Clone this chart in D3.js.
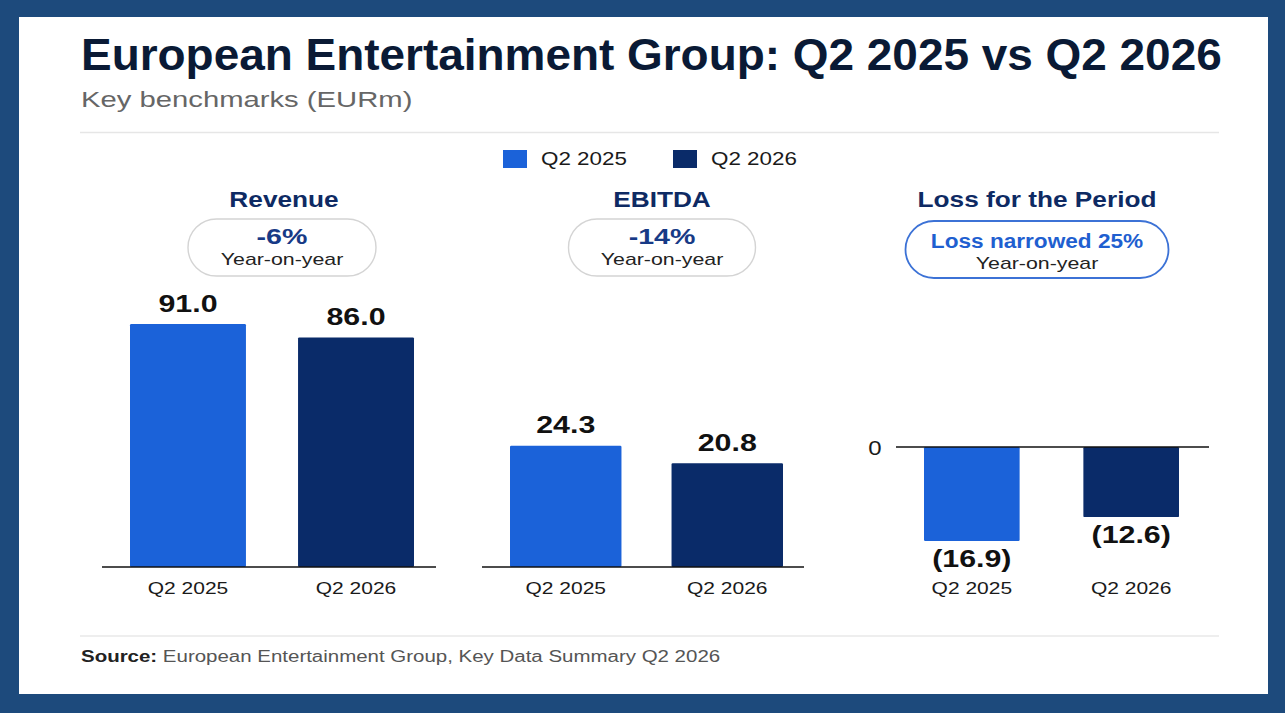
<!DOCTYPE html>
<html>
<head>
<meta charset="utf-8">
<script src="https://cdn.jsdelivr.net/npm/d3@7"></script>
<style>
  body { margin: 0; background: #1d4a7c; }
  svg { display: block; font-family: "Liberation Sans", Arial, Helvetica, sans-serif; }
</style>
</head>
<body>
<svg id="chart"></svg>
<script>
const width = 1285;
const height = 713;

// data
const categories = ['Q2 2025', 'Q2 2026'];
const metrics = ['Revenue', 'EBITDA', 'Loss for the Period'];
const revenue = [91.0, 86.0];
const ebitda = [24.3, 20.8];
const lossForPeriod = [-16.9, -12.6];
const yoyChange = ['-6%', '-14%', 'Loss narrowed 25%'];
const yoyNote = 'Year-on-year';
const axisMax = [100, 53.5, 48];
const zeroTicks = [null, null, 0];

const colors = ['#1b62d9', '#0a2b69'];
const series = [revenue, ebitda, lossForPeriod];

// layout of the three small panels
const panels = [
    { cx: 282, bars: [130, 414], axis: [102, 436], inner: 0.31, base: 567, pillW: 188, pillY: 219, highlight: false },
    { cx: 662, bars: [510, 783], axis: [482, 804], inner: 0.31, base: 567, pillW: 187, pillY: 219, highlight: false },
    { cx: 1037, bars: [924, 1179], axis: [896, 1209], inner: 0.40, base: 447, pillW: 263, pillY: 221, highlight: true },
];
const plotH = 267;

const svg = d3.select('#chart')
    .attr('width', width)
    .attr('height', height);

// text is a bit wide in the original, so stretch horizontally
const addText = (parent, x, y, str, size, opts = {}) => {
    const t = parent.append('text')
        .attr('transform', `translate(${x},${y}) scale(${opts.sx || 1.25},1)`)
        .attr('text-anchor', opts.anchor || 'start')
        .style('font-size', size + 'px')
        .style('font-weight', opts.weight || 'normal')
        .style('fill', opts.fill || '#1a1a1a');
    if (str !== null) t.text(str);
    return t;
};

svg.append('rect')
    .attr('x', 19).attr('y', 17)
    .attr('width', 1249).attr('height', 677)
    .attr('fill', '#ffffff');

// header
addText(svg, 81, 70, 'European Entertainment Group: Q2 2025 vs Q2 2026', 43.5, { weight: 'bold', fill: '#0a1a35', sx: 1.056 });
addText(svg, 81, 107, 'Key benchmarks (EURm)', 22.5, { fill: '#666666', sx: 1.3 });

svg.append('line')
    .attr('x1', 80).attr('x2', 1219)
    .attr('y1', 132.5).attr('y2', 132.5)
    .attr('stroke', '#e6e6e6').attr('stroke-width', 1.5);

// legend
const legend = svg.selectAll('.legend')
    .data(categories)
    .enter().append('g')
    .attr('class', 'legend')
    .attr('transform', (d, i) => `translate(${503 + i * 170},150)`);

legend.append('rect')
    .attr('width', 24).attr('height', 18)
    .attr('fill', (d, i) => colors[i]);

legend.each(function (d) {
    addText(d3.select(this), 38, 15, d, 17.5, { fill: '#1a1a1a', sx: 1.28 });
});

const fmt = d3.format('.1f');
const label = v => v < 0 ? `(${fmt(-v)})` : fmt(v);

panels.forEach((p, k) => {
    const g = svg.append('g').attr('class', 'panel');
    const values = series[k];

    // title and yoy pill
    addText(g, p.cx + (k === 0 ? 2 : 0), 207, metrics[k], 21.5, { weight: 'bold', fill: '#0e2a63', anchor: 'middle', sx: 1.22 });

    g.append('rect')
        .attr('x', p.cx - p.pillW / 2)
        .attr('y', p.pillY)
        .attr('width', p.pillW)
        .attr('height', 57)
        .attr('rx', 28.5)
        .attr('fill', '#ffffff')
        .attr('stroke', p.highlight ? '#3c72d6' : '#d4d4d4')
        .attr('stroke-width', p.highlight ? 1.8 : 1.4);

    if (p.highlight) {
        addText(g, p.cx, p.pillY + 27, yoyChange[k], 19.5, { weight: 'bold', fill: '#1f5fd0', anchor: 'middle', sx: 1.16 });
        addText(g, p.cx, p.pillY + 48, yoyNote, 16.8, { fill: '#222222', anchor: 'middle', sx: 1.27 });
    } else {
        addText(g, p.cx, p.pillY + 25, yoyChange[k], 22, { weight: 'bold', fill: '#173a86', anchor: 'middle', sx: 1.3 });
        addText(g, p.cx, p.pillY + 46, yoyNote, 16.8, { fill: '#222222', anchor: 'middle', sx: 1.27 });
    }

    // scales
    const x = d3.scaleBand()
        .domain(categories)
        .range(p.bars)
        .paddingInner(p.inner)
        .paddingOuter(0);

    const negative = values.every(v => v < 0);
    const y = d3.scaleLinear()
        .domain(negative ? [0, -axisMax[k]] : [0, axisMax[k]])
        .range(negative ? [p.base, p.base + plotH] : [p.base, p.base - plotH]);

    g.selectAll('.bar')
        .data(values)
        .enter().append('rect')
        .attr('class', 'bar')
        .attr('x', (d, i) => x(categories[i]))
        .attr('width', x.bandwidth())
        .attr('y', d => Math.min(y(0), y(d)))
        .attr('height', d => Math.abs(y(d) - y(0)))
        .attr('rx', 1.2)
        .attr('fill', (d, i) => colors[i]);

    // baseline / zero line
    g.append('line')
        .attr('x1', p.axis[0]).attr('x2', p.axis[1])
        .attr('y1', y(0)).attr('y2', y(0))
        .attr('stroke', '#111111').attr('stroke-width', 1.6);

    if (zeroTicks[k] !== null) {
        addText(g, 875, y(zeroTicks[k]) + 7.5, String(zeroTicks[k]), 20, { fill: '#1a1a1a', anchor: 'middle', sx: 1.2 });
    }

    // value labels
    values.forEach((v, i) => {
        const lx = x(categories[i]) + x.bandwidth() / 2;
        const ly = v < 0 ? y(v) + 26 : y(v) - 12.5;
        addText(g, lx, ly, label(v), 24.5, { weight: 'bold', fill: '#111111', anchor: 'middle', sx: 1.24 });
    });

    // category labels
    categories.forEach(c => {
        addText(g, x(c) + x.bandwidth() / 2, 593.5, c, 16.8, { fill: '#1a1a1a', anchor: 'middle', sx: 1.25 });
    });
});

// footer
svg.append('line')
    .attr('x1', 80).attr('x2', 1219)
    .attr('y1', 636).attr('y2', 636)
    .attr('stroke', '#e8e8e8').attr('stroke-width', 1.5);

const src = addText(svg, 81, 662, null, 16, { fill: '#555555', sx: 1.28 });
src.append('tspan').style('font-weight', 'bold').style('fill', '#222222').text('Source:');
src.append('tspan').text(' European Entertainment Group, Key Data Summary Q2 2026');
</script>
</body>
</html>
